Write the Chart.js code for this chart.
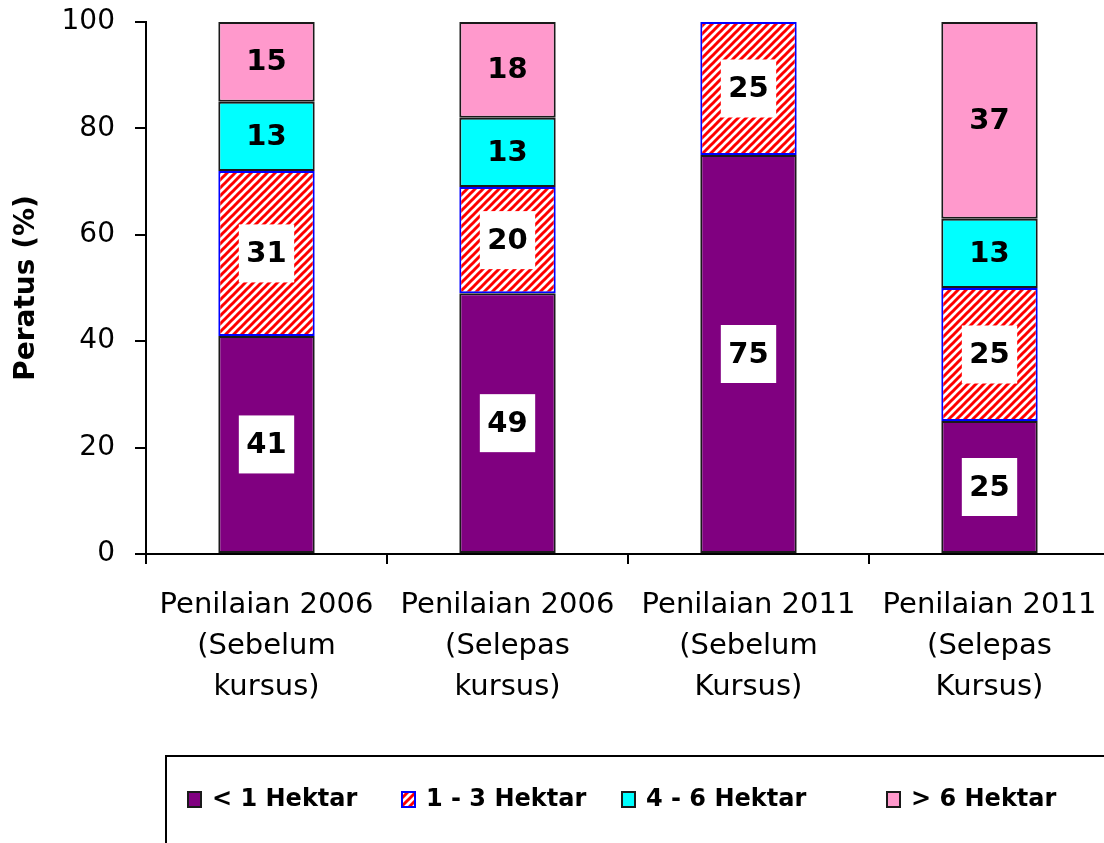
<!DOCTYPE html>
<html>
<head>
<meta charset="utf-8">
<script src="https://cdn.jsdelivr.net/npm/chart.js@4/dist/chart.umd.min.js"></script>
<style>
  html, body { margin: 0; padding: 0; background: #fff; overflow: hidden; }
</style>
</head>
<body>
<canvas id="chart" width="1112" height="843"></canvas>
<script>
const categories = [
    ['Penilaian 2006', '(Sebelum', 'kursus)'],
    ['Penilaian 2006', '(Selepas', 'kursus)'],
    ['Penilaian 2011', '(Sebelum', 'Kursus)'],
    ['Penilaian 2011', '(Selepas', 'Kursus)']
];
const seriesNames = ['< 1 Hektar', '1 - 3 Hektar', '4 - 6 Hektar', '> 6 Hektar'];
const under1 = [41, 49, 75, 25];
const from1to3 = [31, 20, 25, 25];
const from4to6 = [13, 13, null, 13];
const over6 = [15, 18, null, 37];
const yTicks = [0, 20, 40, 60, 80, 100];

// corak jalur merah untuk siri 1 - 3 Hektar
function makeHatch() {
    const n = 8;
    const tile = document.createElement('canvas');
    tile.width = n;
    tile.height = n;
    const t = tile.getContext('2d');
    t.fillStyle = '#ffffff';
    t.fillRect(0, 0, n, n);
    t.strokeStyle = '#ff0000';
    t.lineWidth = 3;
    [[0, n, n, 0], [-n / 2, n / 2, n / 2, -n / 2], [n / 2, n * 1.5, n * 1.5, n / 2]].forEach(([x1, y1, x2, y2]) => {
        t.beginPath();
        t.moveTo(x1, y1);
        t.lineTo(x2, y2);
        t.stroke();
    });
    return document.getElementById('chart').getContext('2d').createPattern(tile, 'repeat');
}
const hatch = makeHatch();

const labelPlugin = {
    id: 'segmentLabels',
    afterDatasetsDraw(chart) {
        const ctx = chart.ctx;
        ctx.save();
        ctx.font = "bold 29px 'DejaVu Sans'";
        ctx.textAlign = 'center';
        ctx.textBaseline = 'middle';
        chart.data.datasets.forEach((ds, i) => {
            const meta = chart.getDatasetMeta(i);
            meta.data.forEach((bar, j) => {
                const v = ds.data[j];
                if (v === null || v === undefined) return;
                const cy = (bar.y + bar.base) / 2;
                const txt = String(v);
                if (ds.whiteBox) {
                    const w = ctx.measureText(txt).width + 15;
                    ctx.fillStyle = '#ffffff';
                    ctx.fillRect(bar.x - w / 2, cy - 29, w, 58);
                }
                ctx.fillStyle = '#000000';
                ctx.fillText(txt, bar.x, cy + 1);
            });
        });
        ctx.restore();
    }
};

const legendPlugin = {
    id: 'boxLegend',
    afterDraw(chart) {
        const ctx = chart.ctx;
        const itemX = [188, 402, 622, 887];
        ctx.save();
        ctx.strokeStyle = '#000';
        ctx.lineWidth = 2;
        ctx.strokeRect(166, 756, 1000, 200);
        ctx.font = "bold 24px 'DejaVu Sans'";
        ctx.textBaseline = 'middle';
        chart.data.datasets.forEach((ds, i) => {
            const x = itemX[i];
            ctx.fillStyle = ds.backgroundColor;
            ctx.fillRect(x, 792, 13, 15);
            ctx.strokeStyle = ds.borderColor;
            ctx.lineWidth = 2;
            ctx.strokeRect(x, 792, 13, 15);
            ctx.fillStyle = '#000';
            ctx.fillText(ds.label, x + 24, 800);
        });
        ctx.restore();
    }
};

// buang padding automatik supaya kawasan carta tetap
function noScalePadding(s) {
    s.paddingTop = 0;
    s.paddingBottom = 0;
    s.paddingLeft = 0;
    s.paddingRight = 0;
}

new Chart(document.getElementById('chart'), {
    type: 'bar',
    data: {
        labels: categories,
        datasets: [
            { label: seriesNames[0], data: under1, backgroundColor: '#800080', borderColor: '#1a1a1a', whiteBox: true },
            { label: seriesNames[1], data: from1to3, backgroundColor: hatch, borderColor: '#0000ff', whiteBox: true },
            { label: seriesNames[2], data: from4to6, backgroundColor: '#00ffff', borderColor: '#1a1a1a', whiteBox: false },
            { label: seriesNames[3], data: over6, backgroundColor: '#ff99cc', borderColor: '#1a1a1a', whiteBox: false }
        ].map(d => Object.assign(d, {
            borderWidth: 2,
            borderSkipped: false,
            barPercentage: 0.4,
            categoryPercentage: 1
        }))
    },
    options: {
        responsive: false,
        animation: false,
        layout: { padding: { top: 22, right: 2, left: 0, bottom: 0 } },
        plugins: {
            legend: { display: false },
            tooltip: { enabled: false }
        },
        scales: {
            x: {
                stacked: true,
                afterFit: s => { s.height = 289; noScalePadding(s); },
                border: { color: '#000', width: 2 },
                grid: { display: true, drawOnChartArea: false, drawTicks: true, tickLength: 10, color: '#000', lineWidth: 2 },
                ticks: {
                    color: '#000',
                    padding: 21,
                    maxRotation: 0,
                    font: { family: 'DejaVu Sans', size: 29, lineHeight: 1.41 }
                }
            },
            y: {
                stacked: true,
                min: 0,
                max: 100,
                afterFit: s => { s.width = 146; noScalePadding(s); },
                afterBuildTicks: s => { s.ticks = yTicks.map(v => ({ value: v })); },
                border: { color: '#000', width: 2 },
                grid: { display: true, drawOnChartArea: false, drawTicks: true, tickLength: 11, color: '#000', lineWidth: 2 },
                ticks: {
                    color: '#000',
                    padding: 20,
                    font: { family: 'DejaVu Sans', size: 28 }
                },
                title: {
                    display: true,
                    text: 'Peratus (%)',
                    color: '#000',
                    padding: { top: 10, bottom: 0 },
                    font: { family: 'DejaVu Sans', size: 28, weight: 'bold' }
                }
            }
        }
    },
    plugins: [labelPlugin, legendPlugin]
});
</script>
</body>
</html>
